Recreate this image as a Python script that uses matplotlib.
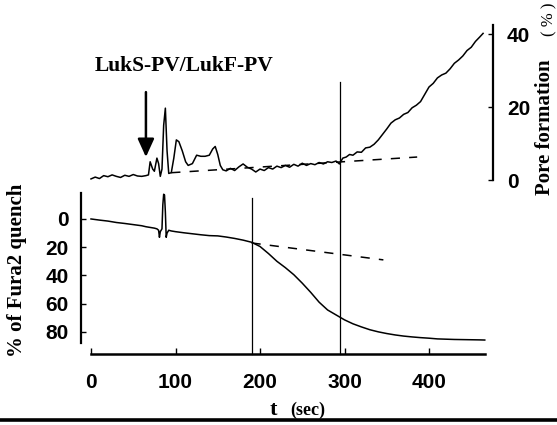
import matplotlib
matplotlib.use("Agg")
import matplotlib.pyplot as plt
from matplotlib.lines import Line2D

W, H = 557, 425

# pore formation trace (upper panel, %)
t_pore = [0, 5, 10, 15, 20, 25, 30, 35, 40, 45, 50, 55, 60, 65, 68, 70, 73, 75, 78, 80,
          82, 84, 86, 88, 90, 92, 95, 98, 101, 104, 108, 112, 115, 120, 125, 130, 135,
          140, 144, 147, 150, 153, 156, 160, 165, 170, 175, 180, 185, 190, 195, 200,
          205, 210, 215, 220, 225, 230, 235, 240, 245, 250, 255, 260, 265, 270, 275,
          280, 285, 290, 294, 298, 302, 306, 310, 315, 320, 325, 330, 335, 340, 345,
          350, 355, 360, 365, 370, 375, 380, 385, 390, 395, 400, 405, 410, 415, 420,
          425, 430, 435, 440, 445, 450, 455, 460, 464]
pore = [0.3, 0.8, 0.4, 1.2, 0.9, 1.4, 1.0, 0.7, 1.3, 1.0, 1.5, 1.1, 1.0, 1.2, 1.4, 5.0,
        3.0, 2.4, 6.0, 4.5, 1.0, 3.0, 15.0, 19.7, 8.0, 1.8, 2.0, 6.0, 11.0, 10.5, 8.0,
        5.0, 4.0, 4.5, 6.8, 6.5, 6.5, 6.8, 8.5, 9.2, 7.0, 4.0, 2.8, 2.5, 3.2, 2.6, 3.6,
        4.4, 3.5, 3.0, 2.2, 3.0, 2.6, 3.4, 3.0, 3.8, 3.4, 4.0, 3.5, 4.3, 3.8, 4.6, 4.0,
        4.5, 4.2, 4.8, 4.4, 5.0, 4.8, 5.2, 4.4, 6.0, 6.3, 7.0, 6.8, 7.7, 7.6, 8.8, 9.0,
        9.8, 11.0, 12.5, 14.0, 15.6, 16.5, 17.0, 18.0, 18.5, 19.8, 20.5, 21.5, 23.5,
        25.5, 26.5, 28.0, 28.8, 29.3, 30.5, 32.0, 32.9, 34.0, 35.5, 36.4, 38.0, 39.2,
        40.2]
pore_base_t = [95, 386]
pore_base = [2.0, 6.3]

# Fura2 quench trace (lower panel, %)
t_q = [0, 10, 20, 30, 40, 50, 60, 65, 70, 75, 78, 80, 81, 82, 84, 85, 86, 87, 88, 89,
       90, 92, 95, 100, 110, 120, 130, 140, 150, 160, 170, 180, 190, 200, 210, 220,
       230, 240, 250, 260, 270, 280, 290, 300, 310, 320, 330, 340, 350, 360, 370,
       380, 390, 400, 410, 420, 430, 440, 450, 460, 466]
quench = [0, 0.8, 1.5, 2.5, 3.2, 4.0, 4.8, 5.5, 6.0, 6.5, 7.0, 8.0, 13.0, 9.0, 7.0,
          -10.0, -17.5, -17.0, -5.0, 13.0, 10.0, 8.0, 8.5, 9.0, 9.8, 10.5, 11.2, 11.8,
          12.0, 12.8, 13.8, 15.0, 16.5, 19.5, 24.5, 30.0, 34.5, 39.5, 45.5, 52.0, 59.0,
          64.5, 68.0, 71.5, 74.3, 76.5, 78.5, 80.0, 81.2, 82.2, 83.0, 83.6, 84.1, 84.5,
          85.0, 85.2, 85.4, 85.5, 85.6, 85.7, 85.8]
q_base_t = [190, 346]
q_base = [17.0, 29.0]

marker_t = [190.5, 294.5]
arrow_t = 65

x_ticks = [0, 100, 200, 300, 400]
q_ticks = [0, 20, 40, 60, 80]
p_ticks = [0, 20, 40]

tickfont = {"family": "Liberation Sans", "weight": "bold", "size": 15}
serif = "Liberation Serif"

fig = plt.figure(figsize=(W / 100, H / 100), dpi=100)


def box(x0, x1, ytop, ybot):
    return [x0 / W, 1 - ybot / H, (x1 - x0) / W, (ybot - ytop) / H]


xlim = ((81 - 91) / 0.845, (493 - 91) / 0.845)

ax = fig.add_axes(box(81, 493, 193, 354))
ax.set_xlim(*xlim)
ax.set_ylim(95.7, -18.4)
ax.plot(t_q, quench, color="black", lw=1.1)
ax.plot(q_base_t, q_base, color="black", lw=1.1, ls=(0, (6, 6)))
ax.axvline(marker_t[0], ymin=0, ymax=0.969, color="black", lw=0.9, clip_on=False)
ax.axvline(marker_t[1], ymin=0, ymax=1.69, color="black", lw=0.9, clip_on=False)
for s in ["top", "right"]:
    ax.spines[s].set_visible(False)
ax.spines["left"].set_bounds(-18.4, 88)
ax.spines["left"].set_linewidth(1.6)
ax.spines["bottom"].set_bounds(0, 466)
ax.spines["bottom"].set_linewidth(1.8)
ax.set_xticks(x_ticks)
ax.set_yticks(q_ticks)
ax.tick_params(axis="x", direction="in", length=4.5, width=1, pad=14)
ax.tick_params(axis="y", direction="in", length=3.5, width=1, pad=9)
for lab in ax.get_xticklabels() + ax.get_yticklabels():
    lab.set_fontproperties(tickfont)
ax.patch.set_alpha(0)

axp = fig.add_axes(box(81, 493, 25, 190))
axp.set_xlim(*xlim)
axp.set_ylim(-2.74, 42.5)
axp.plot(t_pore, pore, color="black", lw=1.1)
axp.plot(pore_base_t, pore_base, color="black", lw=1.1, ls=(0, (6, 6)))
for s in ["top", "left", "bottom"]:
    axp.spines[s].set_visible(False)
axp.spines["right"].set_bounds(0, 42.5)
axp.spines["right"].set_linewidth(1.6)
axp.set_xticks([])
axp.yaxis.tick_right()
axp.set_yticks(p_ticks)
axp.tick_params(axis="y", direction="in", length=3.5, width=1, pad=10)
for lab in axp.get_yticklabels():
    lab.set_fontproperties(tickfont)
axp.patch.set_alpha(0)

axp.annotate("", xy=(arrow_t, 6.3), xytext=(arrow_t, 24.1),
             arrowprops=dict(arrowstyle="-|>,head_width=0.25,head_length=0.55",
                             mutation_scale=20, color="black", lw=1.8,
                             shrinkA=0, shrinkB=0))

fig.text(184 / W, 1 - 66 / H, "LukS-PV/LukF-PV", family=serif, weight="bold",
         size=15.5, ha="center", va="center")
fig.text(545 / W, 1 - 195 / H, "Pore formation", family=serif, weight="bold",
         size=15, rotation=90, ha="center", va="bottom")
fig.text(549 / W, 1 - 2 / H, "( % )", family=serif, size=12, rotation=90,
         ha="center", va="top")
fig.text(17 / W, 1 - 270 / H, "% of Fura2 quench", family=serif, weight="bold",
         size=15, rotation=90, ha="center", va="center")
fig.text(273 / W, 1 - 415 / H, "t", family=serif, weight="bold", size=16,
         ha="center", va="baseline")
fig.text(290 / W, 1 - 415 / H, "(sec)", family=serif, weight="bold", size=13,
         ha="left", va="baseline")

fig.add_artist(Line2D([0, 1], [1 - 420 / H, 1 - 420 / H], color="black", lw=2.6,
                      transform=fig.transFigure))

fig.savefig("out.png", dpi=100)
